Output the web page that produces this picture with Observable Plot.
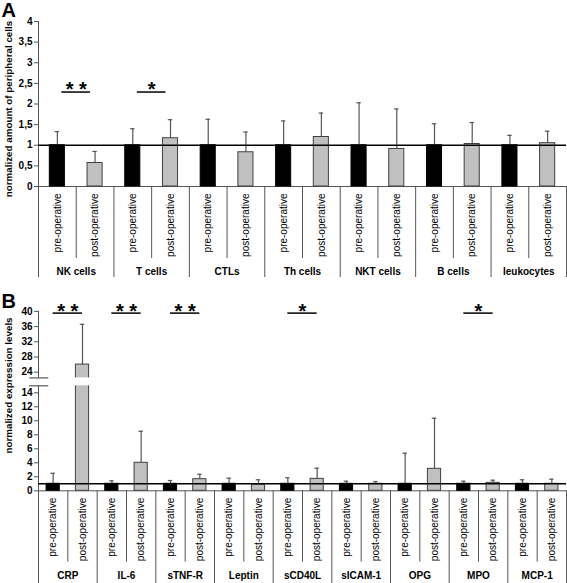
<!DOCTYPE html>
<html><head><meta charset="utf-8">
<script src="https://cdn.jsdelivr.net/npm/d3@7"></script>
<script src="https://cdn.jsdelivr.net/npm/@observablehq/plot@0.6"></script>
<style>body{margin:0;background:#fff;} #chart{width:567px;} #chart svg{display:block;}</style>
</head><body><div id="chart"></div>
<script>
// ---- Data ----
const phases = ["pre-operative", "post-operative"];

// Panel A: peripheral cells
const cellGroups = ["NK cells", "T cells", "CTLs", "Th cells", "NKT cells", "B cells", "leukocytes"];
const cellPre = [1, 1, 1, 1, 1, 1, 1];
const cellPreErr = [1.33, 1.40, 1.63, 1.59, 2.03, 1.52, 1.24];
const cellPost = [0.57, 1.17, 0.83, 1.20, 0.91, 1.03, 1.05];
const cellPostErr = [0.85, 1.62, 1.32, 1.78, 1.88, 1.55, 1.34];
const cellSig = ["* *", "*", "", "", "", "", ""];
const cellTicks = [0, 0.5, 1, 1.5, 2, 2.5, 3, 3.5, 4];

// Panel B: expression levels
const markerGroups = ["CRP", "IL-6", "sTNF-R", "Leptin", "sCD40L", "sICAM-1", "OPG", "MPO", "MCP-1"];
const markerPre = [1, 1, 1, 1, 1, 1, 1, 1, 1];
const markerPreErr = [2.5, 1.43, 1.47, 1.8, 1.86, 1.37, 5.37, 1.37, 1.57];
const markerPost = [26, 4.0, 1.66, 0.86, 1.71, 1.0, 3.14, 1.14, 1.0];
const markerPostErr = [36.6, 8.5, 2.37, 1.57, 3.23, 1.33, 10.37, 1.51, 1.66];
const markerSig = ["* *", "* *", "* *", "", "*", "", "", "*", ""];
const markerTicks = [0, 2, 4, 6, 8, 10, 12, 14, 24, 28, 32, 36, 40];
const markerBreak = [15, 22.5];

const W = 567, ML = 38, MR = 1;
const FONT = "Liberation Sans, Arial, Helvetica, sans-serif";

// broken-axis transform: lower segment at lowerPx/unit, gap, upper segment at upperPx/unit
function brokenAxis([b0, b1], lowerPx, upperPx, gapPx) {
  return v => v <= b0 ? v
    : v < b1 ? b0 + (v - b0) / (b1 - b0) * gapPx / lowerPx
    : b0 + gapPx / lowerPx + (v - b1) * upperPx / lowerPx;
}

function makePanel(cfg) {
  const {letter, title, groups, pre, preErr, post, postErr, sig, ticks, top, pxPerUnit, axisY0,
         height, barWidth, sigLevel, sigHalf, breakAt, transform, titleDy, sepInner, sepGroup, groupDy, letterDy} = cfg;
  const rows = groups.flatMap((g, i) => [
    {group: g, phase: phases[0], slot: 2 * i, value: pre[i], err: preErr[i]},
    {group: g, phase: phases[1], slot: 2 * i + 1, value: post[i], err: postErr[i]}
  ]);
  const n = groups.length * 2;
  const slotW = (W - ML - MR) / n;
  const cap = 2.2 / slotW;
  const half = barWidth / 2;
  const t = transform || (v => v);
  const below = px => -px / pxPerUnit;
  const axisSegs = breakAt ? [[0, breakAt[0]], [breakAt[1], top]] : [[0, top]];
  const sigRows = groups.map((g, i) => ({center: 2 * i + 1, label: sig[i]})).filter(d => d.label);
  const preRows = rows.filter(d => d.phase === phases[0]);
  const postRows = rows.filter(d => d.phase === phases[1]);
  const grey = "#555";
  const tTop = t(top);
  const rangeTop = axisY0 - tTop * pxPerUnit;
  const fmt = d => String(d).replace(".", ",");

  const marks = [
    // y axis (line, ticks, labels)
    Plot.ruleX(axisSegs, {x: () => 0, y1: d => d[0], y2: d => d[1], stroke: grey}),
    Plot.ruleY(ticks, {y: d => d, x1: () => -4 / slotW, x2: () => 0, stroke: grey}),
    Plot.text(ticks, {y: d => d, x: () => 0, dx: -6, text: fmt, textAnchor: "end", fontWeight: "bold", fontSize: 10}),
    // category separators and x axis line
    Plot.ruleX(d3.range(0, n + 1, 2), {x: d => d, y1: () => 0, y2: () => below(sepGroup), stroke: grey}),
    Plot.ruleX(d3.range(1, n, 2), {x: d => d, y1: () => 0, y2: () => below(sepInner), stroke: grey}),
    Plot.ruleY([0], {x1: () => 0, x2: () => n, stroke: grey}),
    // error bars
    Plot.ruleX(rows, {x: d => d.slot + 0.5, y1: "value", y2: "err", stroke: grey, strokeWidth: 1.2}),
    Plot.ruleY(rows, {y: "err", x1: d => d.slot + 0.5 - cap, x2: d => d.slot + 0.5 + cap, stroke: grey, strokeWidth: 1.2}),
    // bars
    Plot.rectY(preRows, {x1: d => d.slot + 0.5 - half, x2: d => d.slot + 0.5 + half, y1: () => 0, y2: "value", fill: "black", stroke: "black"}),
    Plot.rectY(postRows, {x1: d => d.slot + 0.5 - half, x2: d => d.slot + 0.5 + half, y1: () => 0, y2: "value", fill: "#c0c0c0", stroke: "#404040"}),
  ];
  if (breakAt) {
    const tall = rows.filter(d => d.value > breakAt[1]);
    marks.push(
      Plot.rect(tall, {x1: d => d.slot + 0.5 - half - 0.05, x2: d => d.slot + 0.5 + half + 0.05, y1: () => breakAt[0], y2: () => breakAt[1], fill: "white"}),
      Plot.ruleY(breakAt, {x1: () => -0.3, x2: () => 0.35, stroke: grey, strokeWidth: 1.2})
    );
  }
  marks.push(
    Plot.ruleY([1], {x1: () => 0, x2: () => n, stroke: "black", strokeWidth: 1.5}),
    Plot.ruleY(sigRows, {y: () => sigLevel, x1: d => d.center - sigHalf, x2: d => d.center + sigHalf, stroke: "black", strokeWidth: 1.5}),
    Plot.text(sigRows, {x: "center", y: () => sigLevel, text: "label", fontSize: 20, fontWeight: "bold", dy: -2}),
    Plot.text(rows, {x: d => d.slot + 0.5, y: () => 0, dy: 7, text: "phase", rotate: -90, textAnchor: "end", fontSize: 10}),
    Plot.text(groups, {x: (d, i) => 2 * i + 1, y: () => 0, dy: groupDy, text: d => d, fontWeight: "bold", fontSize: 10}),
    Plot.text([title], {frameAnchor: "left", dx: -30, dy: titleDy, rotate: -90, textAnchor: "middle", fontWeight: "bold", fontSize: 9.8}),
    Plot.text([letter], {frameAnchor: "top-left", dx: 1 - ML, dy: letterDy, textAnchor: "start", lineAnchor: "top", fontWeight: "bold", fontSize: 20})
  );

  const yOpts = {domain: [0, tTop], range: [axisY0, rangeTop], axis: null};
  if (transform) yOpts.transform = transform;
  return Plot.plot({
    width: W, height,
    marginLeft: ML, marginRight: MR,
    marginTop: rangeTop, marginBottom: height - axisY0,
    x: {domain: [0, n], axis: null},
    y: yOpts,
    style: {fontFamily: FONT, fontSize: "10px", color: "black", background: "white", overflow: "visible"},
    marks
  });
}

const chart = document.getElementById("chart");
chart.append(makePanel({
  letter: "A", title: "normalized amount of peripheral cells",
  groups: cellGroups, pre: cellPre, preErr: cellPreErr, post: cellPost, postErr: cellPostErr,
  sig: cellSig, ticks: cellTicks, top: 4, pxPerUnit: 41.25, axisY0: 186, height: 283,
  barWidth: 0.4, sigLevel: 2.29, sigHalf: 0.38, breakAt: null, transform: null,
  titleDy: 5, sepInner: 72, sepGroup: 91, groupDy: 85, letterDy: -19
}));
chart.append(makePanel({
  letter: "B", title: "normalized expression levels",
  groups: markerGroups, pre: markerPre, preErr: markerPreErr, post: markerPost, postErr: markerPostErr,
  sig: markerSig, ticks: markerTicks, top: 40, pxPerUnit: 7, axisY0: 207.3, height: 300,
  barWidth: 0.45, sigLevel: 39.55, sigHalf: 0.5, breakAt: markerBreak,
  transform: brokenAxis(markerBreak, 7, 3.8, 7.9),
  titleDy: -15.6, sepInner: 71.4, sepGroup: 93, groupDy: 85.4, letterDy: -18
}));
</script>
</body></html>
